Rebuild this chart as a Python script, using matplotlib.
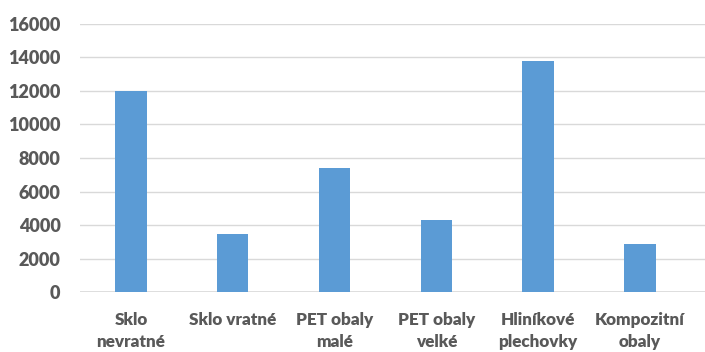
import matplotlib.pyplot as plt

categories = ['Sklo\nnevratné', 'Sklo vratné', 'PET obaly\nmalé',
              'PET obaly\nvelké', 'Hliníkové\nplechovky', 'Kompozitní\nobaly']
values = [12000, 3500, 7400, 4300, 13800, 2900]
yticks = [0, 2000, 4000, 6000, 8000, 10000, 12000, 14000, 16000]

BAR_COLOR = '#5B9BD5'
TEXT_COLOR = '#595959'
GRID_COLOR = '#D9D9D9'

plt.rcParams['font.family'] = ['Lato', 'DejaVu Sans']

fig = plt.figure(figsize=(7.05, 3.52), dpi=100)
ax = fig.add_axes([0.1135, 0.1696, 0.8865, 0.7634])

x = range(len(categories))
ax.bar(x, values, width=0.31, color=BAR_COLOR, zorder=3)

ax.set_ylim(0, 16000)
ax.set_xlim(-0.5, 5.64)
ax.set_yticks(yticks)
ax.set_yticklabels([str(t) for t in yticks])
ax.set_xticks(list(x))
ax.set_xticklabels(categories, linespacing=1.45)

ax.grid(axis='y', color=GRID_COLOR, linewidth=1, zorder=0)
for side in ['top', 'right', 'left', 'bottom']:
    ax.spines[side].set_visible(False)
ax.axhline(0, color=GRID_COLOR, linewidth=1.2, zorder=2)

ax.tick_params(axis='both', length=0, labelcolor=TEXT_COLOR)
ax.tick_params(axis='y', pad=14, labelsize=13)
ax.tick_params(axis='x', pad=14, labelsize=12.3)
for lbl in ax.get_xticklabels() + ax.get_yticklabels():
    lbl.set_fontweight('heavy')

fig.savefig('out.png', dpi=100)
